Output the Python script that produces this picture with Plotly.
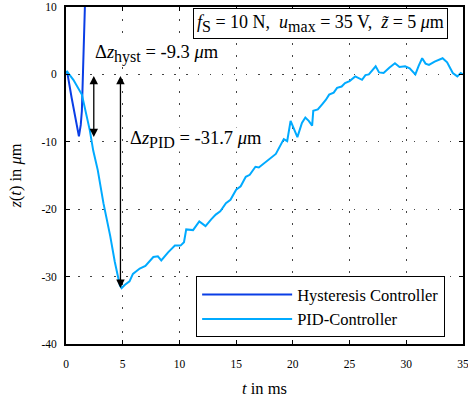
import plotly.graph_objects as go

# PID-Controller response
pid_t = [0.0, 0.1, 0.65, 1.4, 2.1, 2.4, 2.8, 3.3, 3.9, 4.3, 4.75, 4.9, 5.2, 5.6, 5.9, 6.5,
         7.0, 7.7, 8.1, 8.4, 9.0, 9.6, 10.1, 10.4, 10.6, 11.2, 11.75, 12.3, 12.8, 13.2, 13.6,
         14.1, 14.5, 15.0, 15.4, 15.85, 16.2, 16.7, 17.0, 17.6, 18.0, 18.5, 19.2, 19.5, 19.8,
         20.1, 20.4, 20.8, 21.1, 21.4, 21.7, 21.8, 22.2, 22.6, 22.9, 23.2, 23.6, 23.9, 24.3,
         24.6, 25.0, 25.5, 25.8, 26.1, 26.4, 26.7, 27.0, 27.3, 27.6, 28.0, 28.5, 29.0, 29.4,
         29.9, 30.3, 30.8, 31.1, 31.4, 31.7, 32.0, 32.5, 33.2, 33.6, 34.1, 34.5, 34.8, 35.0]
pid_z = [0.2, 0.4, -0.8, -3.0, -8.3, -11.3, -14.2, -19.1, -24.0, -27.8, -31.3, -31.7, -31.2, -30.7, -29.6, -28.8,
         -28.4, -27.1, -27.0, -27.6, -26.4, -25.4, -25.4, -24.9, -23.0, -23.1, -21.8, -22.5, -21.5, -20.8, -20.3,
         -19.1, -18.6, -17.1, -16.6, -15.2, -14.9, -13.7, -13.8, -13.0, -12.6, -11.8, -9.6, -9.9, -6.9,
         -8.0, -9.3, -7.2, -6.4, -6.9, -7.6, -5.4, -5.2, -4.4, -3.8, -3.0, -2.7, -2.0, -1.8,
         -1.3, -1.0, -0.3, -0.6, -0.8, -0.1, 0.0, 0.6, 1.2, 0.3, 0.2, 1.0, 1.65, 1.1,
         1.2, 0.9, 0.0, 1.3, 2.4, 1.6, 1.4, 1.9, 2.4, 1.8, 0.2, -0.3, 0.2, 0.0]

# Hysteresis Controller response
hyst_t = [0.0, 0.1, 0.5, 0.95, 1.14, 1.3, 1.4, 1.5, 1.55, 1.62, 1.7]
hyst_z = [0.2, 0.4, -3.5, -7.9, -9.2, -7.5, -5.4, 0.4, 3.0, 7.0, 12.0]

x_ticks = [0, 5, 10, 15, 20, 25, 30, 35]
y_ticks = [10, 0, -10, -20, -30, -40]

dz_hyst = -9.3
dz_pid = -31.7
t_arrow_hyst = 2.45
t_arrow_pid = 4.8

FONT = "Liberation Serif"
FS = 16.5
AFS = 18.5
SUB = '<sub><span style="font-size:16px">{}</span></sub>'
C_HYST = "#0a3ee6"
C_PID = "#00aaff"

fig = go.Figure()
fig.add_trace(go.Scatter(x=hyst_t, y=hyst_z, mode="lines", name="Hysteresis Controller",
                         line=dict(color=C_HYST, width=2)))
fig.add_trace(go.Scatter(x=pid_t, y=pid_z, mode="lines", name="PID-Controller",
                         line=dict(color=C_PID, width=2)))

axis_common = dict(showline=True, linecolor="black", linewidth=1.8, mirror="ticks",
                   ticks="inside", ticklen=4, tickcolor="black", tickwidth=1,
                   showgrid=True, gridcolor="#444444", griddash="1.5px,10.5px", gridwidth=1,
                   zeroline=False, automargin=False, ticklabeloverflow="allow",
                   tickfont=dict(family=FONT, size=11.5, color="black"))

fig.update_xaxes(range=[0, 35], tickvals=x_ticks, ticktext=[str(v) for v in x_ticks],
                 ticklabelstandoff=8,
                 title=dict(text="<i>t</i> in ms", font=dict(family=FONT, size=FS, color="black"), standoff=14),
                 **axis_common)
fig.update_yaxes(range=[-40, 10], tickvals=y_ticks, ticktext=[str(v) for v in y_ticks],
                 ticklabelstandoff=5,
                 title=dict(text="<i>z</i>(<i>t</i>) in <i>μ</i>m", font=dict(family=FONT, size=FS, color="black"), standoff=16),
                 **axis_common)

annotations = [
    dict(x=t_arrow_hyst, y=dz_hyst, ax=t_arrow_hyst, ay=0, xref="x", yref="y", axref="x", ayref="y",
         text="", showarrow=True, arrowhead=2, startarrowhead=2, arrowside="end+start",
         arrowsize=1.3, arrowwidth=1.3, arrowcolor="black"),
    dict(x=t_arrow_pid, y=dz_pid, ax=t_arrow_pid, ay=0, xref="x", yref="y", axref="x", ayref="y",
         text="", showarrow=True, arrowhead=2, startarrowhead=2, arrowside="end+start",
         arrowsize=1.3, arrowwidth=1.3, arrowcolor="black"),
    dict(x=2.5, y=3.1, xref="x", yref="y", xanchor="left", yanchor="middle", showarrow=False,
         bgcolor="white", borderpad=0,
         text="Δ<i>z</i>" + SUB.format("hyst") + f" = {dz_hyst} <i>μ</i>m",
         font=dict(family=FONT, size=AFS, color="black")),
    dict(x=5.55, y=-9.6, xref="x", yref="y", xanchor="left", yanchor="middle", showarrow=False,
         bgcolor="white", borderpad=0,
         text="Δ<i>z</i>" + SUB.format("PID") + f" = {dz_pid} <i>μ</i>m",
         font=dict(family=FONT, size=AFS, color="black")),
    dict(x=0.961, y=0.997, xref="paper", yref="paper", xanchor="right", yanchor="top", showarrow=False,
         text="<i>f</i>" + SUB.format("S") + " = 10 N,&nbsp;&nbsp;<i>u</i>" + SUB.format("max")
              + " = 35 V,&nbsp;&nbsp;<i>z̃</i> = 5 <i>μ</i>m",
         font=dict(family=FONT, size=AFS - 0.5, color="black"),
         bgcolor="white", bordercolor="black", borderwidth=1, borderpad=3),
]

fig.update_layout(
    width=468, height=399,
    margin=dict(l=66, r=5, t=7, b=55),
    paper_bgcolor="white", plot_bgcolor="white",
    font=dict(family=FONT, size=FS, color="black"),
    showlegend=True,
    legend=dict(x=0.955, y=0.02, xanchor="right", yanchor="bottom",
                bgcolor="white", bordercolor="black", borderwidth=1,
                font=dict(family=FONT, size=FS, color="black"),
                itemwidth=90, tracegroupgap=0),
    annotations=annotations,
)

fig.write_html("out.html")
